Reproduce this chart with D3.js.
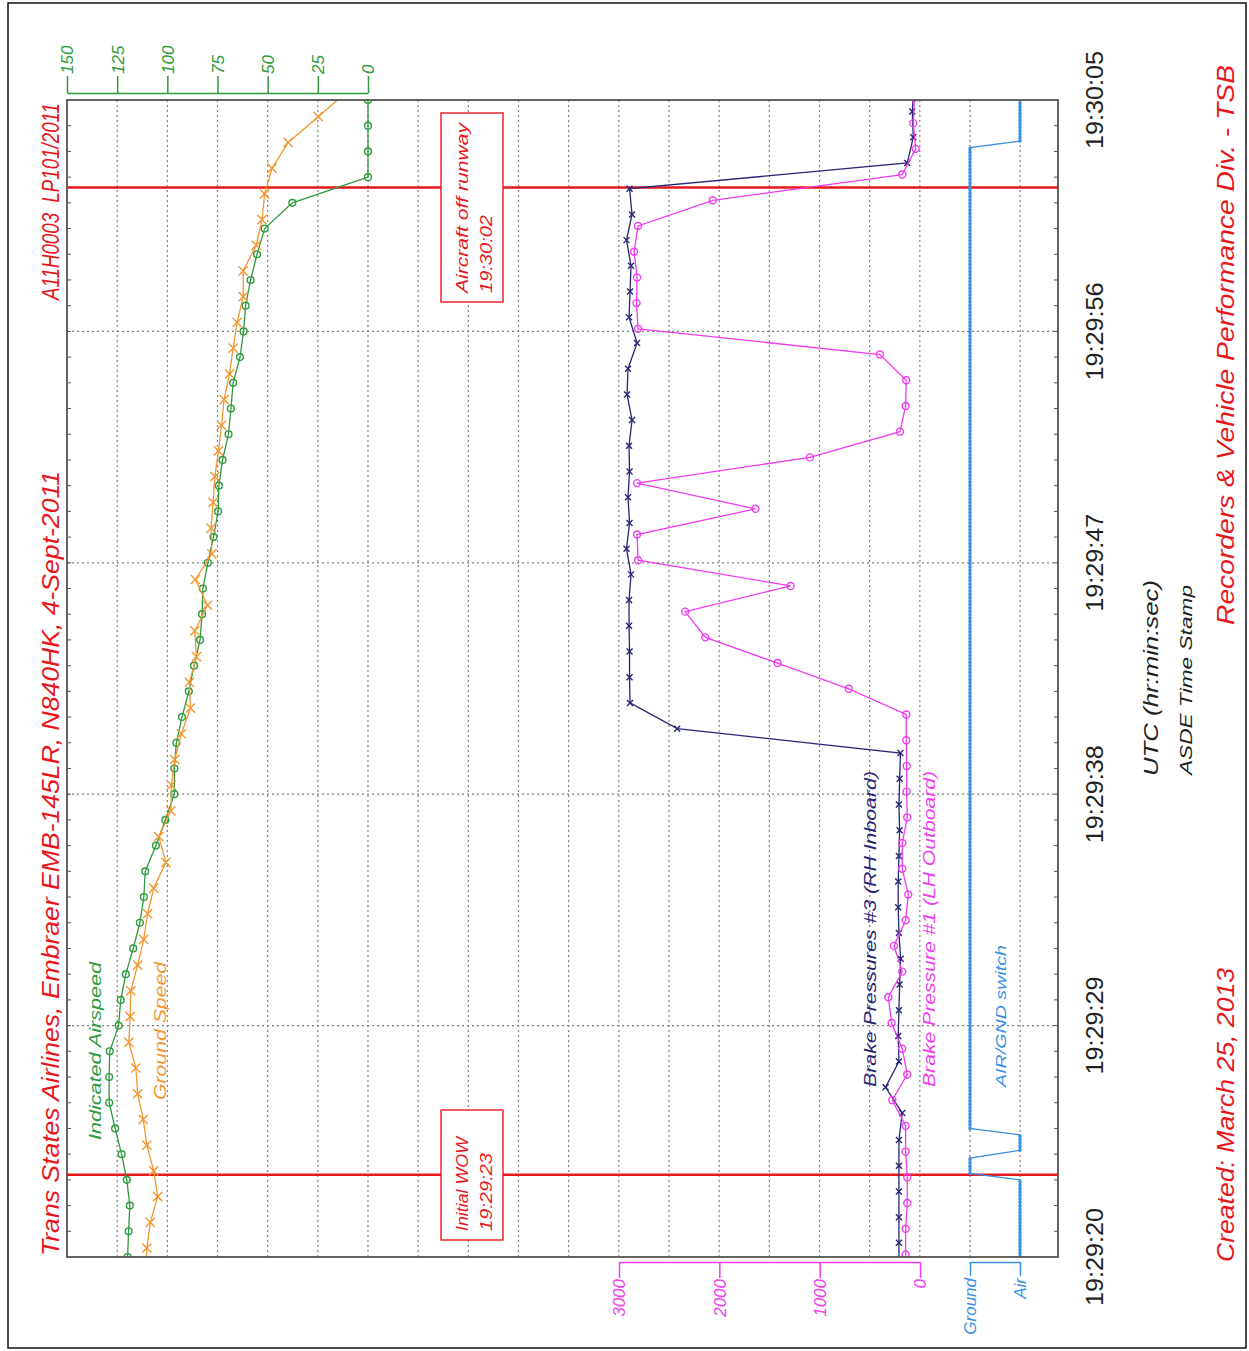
<!DOCTYPE html>
<html lang="en">
<head>
<meta charset="UTF-8">
<title>Trans States Airlines EMB-145LR N840HK - ASDE / FDR</title>
<script src="https://d3js.org/d3.v7.min.js"></script>
<style>
  body { margin: 0; background: #fff; }
  svg { display: block; font-family: 'Liberation Sans', Arial, Helvetica, sans-serif; }
  .grid line { stroke: #808080; stroke-width: 1.2; stroke-dasharray: 2,3; }
</style>
</head>
<body>
<div id="chart"></div>
<script>
// time is seconds after 19:29:20 UTC
const timeTicks = [0, 9, 18, 27, 36, 45];
const timeLabels = ['19:29:20', '19:29:29', '19:29:38', '19:29:47', '19:29:56', '19:30:05'];
const speedTicks = [0, 25, 50, 75, 100, 125, 150];
const pressureTicks = [0, 1000, 2000, 3000];
const switchTicks = [0, 1];
const switchLabels = ['Ground', 'Air'];

// [sec, kts]
const airspeed = [
  [0,119.8],[1,119.3],[2,118.7],[3,120.2],[4,122.8],[5,126],[6,129],[7,129],[8,128.7],[9,124.3],
  [10,123.2],[11,120.7],[12,117],[13,113.7],[14,111.7],[15,111],[16,105.7],[17,101],[18,96.5],[19,96.5],
  [20,95.5],[21,92.7],[22,89.3],[23,86.7],[24,83.7],[25,82.7],[26,82.3],[27,79.8],[28,77],[29,74.7],
  [30,74.3],[31,72.5],[32,69.5],[33,68.3],[34,67.2],[35,63.8],[36,62],[37,61],[38,58.5],[39,55.3],
  [40,51.5],[41,37.7],[42,0],[43,0],[44,0],[45,0]
];
const groundSpeed = [
  [-0.65,110.5],[0.35,110.2],[1.35,108.5],[2.35,104.8],[3.35,106.8],[4.35,110.2],[5.35,112],[6.35,114.8],
  [7.35,115.7],[8.35,119.2],[9.35,118.5],[10.35,118.2],[11.35,114.8],[12.35,111.8],[13.35,109.8],
  [14.35,106.8],[15.35,100.7],[16.35,104.3],[17.35,98.2],[18.35,98],[19.35,96.3],[20.35,93],
  [21.35,88.5],[22.35,89],[23.35,85.5],[24.35,86.3],[25.35,80],[26.35,86],[27.35,77.8],[28.35,78.2],
  [29.35,77.2],[30.35,76.3],[31.35,74.5],[32.35,73],[33.35,71.7],[34.35,69],[35.35,67.2],[36.35,65.2],
  [37.35,62.2],[38.35,62.2],[39.35,55.7],[40.35,52.8],[41.35,51.5],[42.35,47.8],[43.35,39.8],
  [44.35,24.8],[45.35,10]
];
// [sec, psi]
const brake3 = [
  [-0.45,210],[0.55,210],[1.55,210],[2.55,210],[3.55,210],[4.55,210],[5.6,177],[6.6,343],[7.6,210],
  [8.6,217],[9.6,210],[10.6,203],[11.6,193],[12.6,210],[13.6,217],[14.6,217],[15.6,210],[16.6,203],
  [17.6,210],[18.6,203],[19.6,195],[20.55,2420],[21.55,2890],[22.55,2895],[23.55,2895],[24.55,2900],
  [25.55,2900],[26.55,2880],[27.55,2925],[28.55,2895],[29.55,2910],[30.55,2895],[31.55,2900],
  [32.55,2870],[33.55,2920],[34.55,2910],[35.55,2820],[36.55,2900],[37.55,2890],[38.55,2880],
  [39.55,2925],[40.55,2870],[41.55,2895],[42.55,127],[43.55,67],[44.55,77],[45.55,60]
];
const brake1 = [
  [-0.9,140],[0.1,143],[1.1,143],[2.1,127],[3.1,127],[4.1,143],[5.1,143],[6.1,276],[7.1,127],[8.1,177],
  [9.1,283],[10.1,316],[11.1,177],[12.1,260],[13.1,143],[14.1,117],[15.1,177],[16.1,177],[17.1,127],
  [18.1,133],[19.1,133],[20.1,137],[21.1,137],[22.1,710],[23.1,1420],[24.1,2140],[25.1,2340],
  [26.1,1290],[27.1,2810],[28.1,2820],[29.1,1640],[30.1,2820],[31.1,1097],[32.1,200],[33.1,143],
  [34.1,137],[35.1,400],[36.1,2810],[37.1,2825],[38.1,2820],[39.1,2850],[40.1,2810],[41.1,2065],
  [42.1,177],[43.1,43],[44.1,67],[45.1,55]
];
// [sec, 1 = Air / 0 = Ground]
const airGround = [
  [0,1],[3.0,1],[3.25,0],[3.85,0],[4.15,1],[4.75,1],[5.0,0],[43.15,0],[43.4,1],[45,1]
];
// event markers
const events = [
  { t: 3.2, lines: ['Initial WOW', '19:29:23'] },
  { t: 41.6, lines: ['Aircraft off runway', '19:30:02'] }
];

const colors = {
  ias: '#2d9a3c', gs: '#f2962f', b3: '#262673', b1: '#f03cf0',
  sw: '#3a8fe3', red: '#e8171d', frame: '#555'
};

const W = 1249, H = 1351;
const frame = { left: 67, right: 1058, top: 100, bottom: 1257 };

const svg = d3.select('#chart').append('svg')
  .attr('width', W).attr('height', H);

// scales: chart is drawn turned 90 degrees, time runs upward
const y = d3.scaleLinear().domain([0, 45]).range([frame.bottom, frame.top]);
const xSpd = d3.scaleLinear().domain([0, 150]).range([368, 67]);
const xPsi = d3.scaleLinear().domain([0, 3000]).range([920, 619]);
const xSw = d3.scaleLinear().domain([0, 1]).range([970, 1020]);

function rtext(sel, x, yy, str, o) {
  const t = sel.append('text')
    .attr('transform', `translate(${x},${yy}) rotate(-90)`)
    .attr('dy', '0.35em')
    .attr('text-anchor', o.anchor || 'start')
    .attr('font-size', o.size)
    .attr('font-style', o.italic === false ? 'normal' : 'italic')
    .attr('fill', o.color)
    .style('white-space', 'pre')
    .text(str);
  if (o.len) t.attr('textLength', o.len).attr('lengthAdjust', 'spacingAndGlyphs');
  return t;
}

// outer border
svg.append('rect').attr('x', 8).attr('y', 3).attr('width', 1238).attr('height', 1345)
  .attr('fill', 'none').attr('stroke', '#111').attr('stroke-width', 1.5);

// grid
const grid = svg.append('g').attr('class', 'grid');
grid.selectAll('line.v').data(d3.range(1, 20)).join('line')
  .attr('x1', k => xSpd(150 - 25 * k)).attr('x2', k => xSpd(150 - 25 * k))
  .attr('y1', frame.top).attr('y2', frame.bottom);
grid.selectAll('line.h').data(timeTicks.slice(1, -1)).join('line')
  .attr('x1', frame.left).attr('x2', frame.right)
  .attr('y1', d => y(d)).attr('y2', d => y(d));

// event lines
svg.append('g').selectAll('line').data(events).join('line')
  .attr('x1', frame.left).attr('x2', frame.right)
  .attr('y1', d => y(d.t)).attr('y2', d => y(d.t))
  .attr('stroke', colors.red).attr('stroke-width', 2.5);

// clip
svg.append('clipPath').attr('id', 'plot').append('rect')
  .attr('x', frame.left).attr('y', frame.top)
  .attr('width', frame.right - frame.left).attr('height', frame.bottom - frame.top);
const plot = svg.append('g').attr('clip-path', 'url(#plot)');

function series(data, xs, color, marker, size) {
  const line = d3.line().x(d => xs(d[1])).y(d => y(d[0]));
  plot.append('path').datum(data).attr('d', line)
    .attr('fill', 'none').attr('stroke', color).attr('stroke-width', 1.3);
  const m = plot.append('g');
  if (marker === 'o') {
    m.selectAll('circle').data(data).join('circle')
      .attr('cx', d => xs(d[1])).attr('cy', d => y(d[0])).attr('r', size)
      .attr('fill', 'none').attr('stroke', color).attr('stroke-width', 1.4);
  } else {
    m.selectAll('path').data(data).join('path')
      .attr('transform', d => `translate(${xs(d[1])},${y(d[0])})`)
      .attr('d', `M${-size},${-size}L${size},${size}M${-size},${size}L${size},${-size}`)
      .attr('stroke', color).attr('stroke-width', 1.4);
  }
}

series(airspeed, xSpd, colors.ias, 'o', 3.4);
series(groundSpeed, xSpd, colors.gs, 'x', 4.6);
series(brake3, xPsi, colors.b3, 'x', 3);
series(brake1, xPsi, colors.b1, 'o', 3.5);

// air / ground switch: thin line plus dense sample dots on steady parts
const swLine = d3.line().x(d => xSw(d[1])).y(d => y(d[0]));
plot.append('path').datum(airGround).attr('d', swLine)
  .attr('fill', 'none').attr('stroke', colors.sw).attr('stroke-width', 1.4);
const steady = d3.pairs(airGround).filter(p => p[0][1] === p[1][1]);
plot.append('g').selectAll('path').data(steady).join('path')
  .attr('d', d => swLine(d))
  .attr('fill', 'none').attr('stroke', colors.sw).attr('stroke-width', 3.4)
  .attr('stroke-linecap', 'round').attr('stroke-dasharray', '0.8,2.6');

// frame
svg.append('rect').attr('x', frame.left).attr('y', frame.top)
  .attr('width', frame.right - frame.left).attr('height', frame.bottom - frame.top)
  .attr('fill', 'none').attr('stroke', colors.frame).attr('stroke-width', 1.8);

// one-second ticks along both long edges
const secs = d3.range(1, 45);
svg.append('g').selectAll('line').data(secs).join('line')
  .attr('x1', frame.left).attr('x2', frame.left + 4)
  .attr('y1', d => y(d)).attr('y2', d => y(d))
  .attr('stroke', colors.frame).attr('stroke-width', 1);
svg.append('g').selectAll('line').data(secs).join('line')
  .attr('x1', frame.right).attr('x2', frame.right - 4)
  .attr('y1', d => y(d)).attr('y2', d => y(d))
  .attr('stroke', colors.frame).attr('stroke-width', 1);

// event boxes
events.forEach(ev => {
  const long = ev.lines[0].length > 12;
  const tall = long ? 189 : 130;
  const y0 = ev.t > 20 ? 113 : 1110;
  svg.append('rect').attr('x', 441).attr('y', y0).attr('width', 62).attr('height', tall)
    .attr('fill', '#fff').attr('stroke', colors.red).attr('stroke-width', 1.4);
  const base = y0 + tall - 9;
  rtext(svg, 462, base, ev.lines[0], { size: 17, color: colors.red, len: long ? 170 : 94 });
  rtext(svg, 486, base, ev.lines[1], { size: 17, color: colors.red, len: 78 });
});

// speed axis (top)
const gS = svg.append('g').attr('transform', 'translate(0,93)').attr('color', colors.ias);
gS.call(d3.axisTop(xSpd).tickValues(d3.range(0, 151, 5)).tickSize(6).tickSizeOuter(0).tickFormat(''));
gS.call(d3.axisTop(xSpd).tickValues(speedTicks).tickSize(17).tickSizeOuter(0).tickFormat(d3.format('d')));
gS.selectAll('path.domain, line').attr('stroke-width', 1.5);
gS.selectAll('text')
  .attr('transform', 'translate(0,-19) rotate(-90)')
  .attr('x', 0).attr('y', 0).attr('dy', '0.35em')
  .attr('text-anchor', 'start').attr('font-size', 17).attr('font-style', 'italic')
  .attr('font-family', null);

// pressure axis (bottom)
const gP = svg.append('g').attr('transform', 'translate(0,1262)').attr('color', colors.b1);
gP.call(d3.axisBottom(xPsi).tickValues(d3.range(0, 3001, 200)).tickSize(5).tickSizeOuter(0).tickFormat(''));
gP.call(d3.axisBottom(xPsi).tickValues(pressureTicks).tickSize(16).tickSizeOuter(0).tickFormat(d3.format('d')));
gP.selectAll('path.domain, line').attr('stroke-width', 1.5);
gP.selectAll('text')
  .attr('transform', 'translate(0,17) rotate(-90)')
  .attr('x', 0).attr('y', 0).attr('dy', '0.35em')
  .attr('text-anchor', 'end').attr('font-size', 17).attr('font-style', 'italic')
  .attr('font-family', null);

// air/ground axis (bottom)
const gW = svg.append('g').attr('transform', 'translate(0,1262)').attr('color', colors.sw);
gW.call(d3.axisBottom(xSw).tickValues(switchTicks).tickSize(14).tickSizeOuter(0)
  .tickFormat((d, i) => switchLabels[i]));
gW.selectAll('path.domain, line').attr('stroke-width', 1.5);
gW.selectAll('text')
  .attr('transform', 'translate(0,16) rotate(-90)')
  .attr('x', 0).attr('y', 0).attr('dy', '0.35em')
  .attr('text-anchor', 'end').attr('font-size', 17).attr('font-style', 'italic')
  .attr('font-family', null);

// time labels (right)
timeTicks.forEach((t, i) => {
  rtext(svg, 1095, y(t), timeLabels[i], { size: 23, color: '#222', anchor: 'middle', italic: false, len: 98 });
});
rtext(svg, 1151, 678, 'UTC (hr:min:sec)', { size: 21, color: '#222', anchor: 'middle', len: 196 });
rtext(svg, 1186, 680, 'ASDE Time Stamp', { size: 17, color: '#222', anchor: 'middle', len: 190 });

// titles
rtext(svg, 51, 1256, 'Trans States Airlines, Embraer EMB-145LR, N840HK, 4-Sept-2011', { size: 23, color: colors.red, len: 785 });
rtext(svg, 51, 103, 'A11H0003  LP101/2011', { size: 23, color: colors.red, anchor: 'end', len: 197 });
rtext(svg, 1226, 1262, 'Created: March 25, 2013', { size: 24, color: colors.red, len: 294 });
rtext(svg, 1226, 625, 'Recorders & Vehicle Performance Div. - TSB', { size: 24, color: colors.red, len: 560 });

// series labels
rtext(svg, 95, 1140, 'Indicated Airspeed', { size: 17, color: colors.ias, len: 178 });
rtext(svg, 160, 1100, 'Ground Speed', { size: 17, color: colors.gs, len: 138 });
rtext(svg, 870, 1087, 'Brake Pressures #3 (RH Inboard)', { size: 17, color: colors.b3, len: 316 });
rtext(svg, 929, 1087, 'Brake Pressure #1 (LH Outboard)', { size: 17, color: colors.b1, len: 316 });
rtext(svg, 1001, 1087, 'AIR/GND switch', { size: 15, color: colors.sw, len: 142 });
</script>
</body>
</html>
